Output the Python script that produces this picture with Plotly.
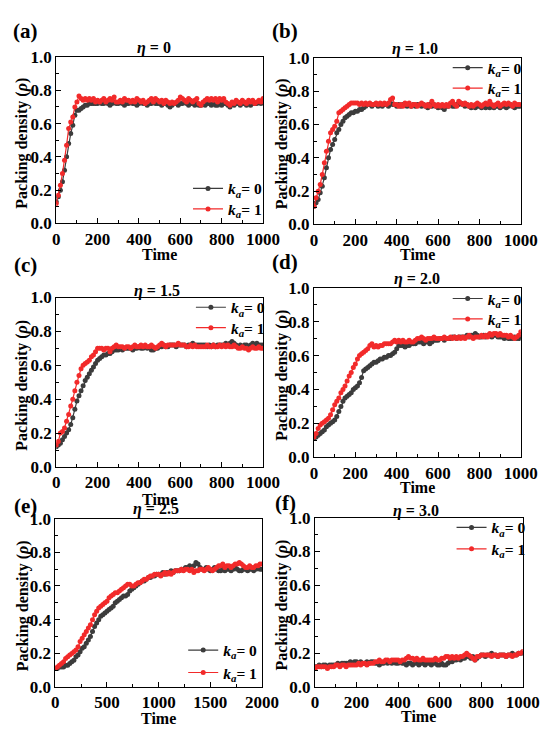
import plotly.graph_objects as go

W, H = 550, 730
FONT = "Liberation Serif"
GRAY = "#3c3c3c"
RED = "#f22a2a"

# ---------------- data ----------------
time_1000 = list(range(0, 1001, 10))
time_2000 = list(range(0, 2001, 20))

gray_a = [0.13, 0.16, 0.20, 0.25, 0.32, 0.40, 0.48, 0.54, 0.59, 0.65,
          0.68, 0.68, 0.69, 0.70, 0.71, 0.71, 0.72, 0.72, 0.72, 0.72,
          0.72, 0.73, 0.72, 0.72, 0.73, 0.72, 0.71, 0.72, 0.73, 0.72,
          0.72, 0.73, 0.72, 0.71, 0.72, 0.72, 0.73, 0.72, 0.72, 0.71,
          0.72, 0.73, 0.72, 0.72, 0.71, 0.72, 0.72, 0.73, 0.72, 0.72,
          0.72, 0.71, 0.72, 0.72, 0.71, 0.70, 0.71, 0.72, 0.72, 0.71,
          0.72, 0.72, 0.73, 0.72, 0.71, 0.72, 0.72, 0.71, 0.72, 0.71,
          0.71, 0.72, 0.71, 0.72, 0.72, 0.71, 0.72, 0.71, 0.71, 0.72,
          0.71, 0.72, 0.72, 0.71, 0.70, 0.72, 0.71, 0.72, 0.72, 0.71,
          0.72, 0.72, 0.71, 0.72, 0.71, 0.72, 0.72, 0.72, 0.73, 0.72,
          0.73]
red_a = [0.12, 0.17, 0.23, 0.30, 0.38, 0.47, 0.57, 0.61, 0.64, 0.70,
         0.73, 0.765, 0.75, 0.74, 0.75, 0.74, 0.75, 0.74, 0.75, 0.73,
         0.74, 0.73, 0.74, 0.75, 0.73, 0.74, 0.75, 0.74, 0.76, 0.73,
         0.73, 0.74, 0.73, 0.75, 0.74, 0.74, 0.73, 0.74, 0.73, 0.75,
         0.74, 0.73, 0.74, 0.72, 0.73, 0.74, 0.75, 0.73, 0.75, 0.74,
         0.73, 0.74, 0.72, 0.74, 0.73, 0.72, 0.73, 0.72, 0.73, 0.74,
         0.76, 0.75, 0.74, 0.73, 0.75, 0.74, 0.73, 0.74, 0.75, 0.72,
         0.71, 0.73, 0.74, 0.75, 0.74, 0.75, 0.74, 0.75, 0.73, 0.75,
         0.74, 0.75, 0.73, 0.72, 0.71, 0.73, 0.72, 0.74, 0.73, 0.72,
         0.74, 0.73, 0.72, 0.74, 0.73, 0.74, 0.72, 0.73, 0.74, 0.73,
         0.75]

gray_b = [0.11, 0.13, 0.15, 0.19, 0.23, 0.28, 0.34, 0.40, 0.45, 0.48,
          0.51, 0.55, 0.57, 0.60, 0.62, 0.64, 0.65, 0.66, 0.67, 0.67,
          0.68, 0.68, 0.69, 0.69, 0.70, 0.71, 0.72, 0.72, 0.71, 0.72,
          0.72, 0.71, 0.72, 0.71, 0.72, 0.72, 0.71, 0.73, 0.72, 0.72,
          0.71, 0.72, 0.71, 0.72, 0.72, 0.71, 0.72, 0.71, 0.72, 0.71,
          0.72, 0.72, 0.71, 0.72, 0.71, 0.70, 0.72, 0.71, 0.72, 0.71,
          0.70, 0.71, 0.70, 0.69, 0.71, 0.71, 0.72, 0.71, 0.71, 0.72,
          0.72, 0.73, 0.72, 0.71, 0.72, 0.71, 0.70, 0.71, 0.70, 0.71,
          0.71, 0.70, 0.71, 0.70, 0.71, 0.70, 0.71, 0.70, 0.71, 0.71,
          0.70, 0.71, 0.71, 0.70, 0.71, 0.72, 0.71, 0.70, 0.71, 0.71,
          0.71]
red_b = [0.11, 0.16, 0.20, 0.24, 0.30, 0.37, 0.44, 0.50, 0.55, 0.57,
         0.59, 0.62, 0.67, 0.68, 0.69, 0.70, 0.71, 0.72, 0.73, 0.73,
         0.73, 0.73, 0.72, 0.73, 0.72, 0.73, 0.72, 0.73, 0.72, 0.72,
         0.73, 0.72, 0.73, 0.72, 0.73, 0.72, 0.73, 0.75, 0.76, 0.72,
         0.72, 0.71, 0.72, 0.71, 0.73, 0.72, 0.73, 0.71, 0.72, 0.72,
         0.71, 0.72, 0.73, 0.72, 0.71, 0.72, 0.71, 0.74, 0.72, 0.71,
         0.72, 0.71, 0.72, 0.71, 0.72, 0.71, 0.73, 0.74, 0.72, 0.71,
         0.74, 0.73, 0.72, 0.73, 0.72, 0.71, 0.72, 0.71, 0.72, 0.73,
         0.72, 0.71, 0.72, 0.73, 0.72, 0.74, 0.72, 0.71, 0.72, 0.73,
         0.71, 0.72, 0.73, 0.72, 0.73, 0.72, 0.71, 0.73, 0.72, 0.72,
         0.72]

gray_c = [0.12, 0.13, 0.14, 0.16, 0.18, 0.20, 0.22, 0.25, 0.29, 0.34,
          0.39, 0.42, 0.45, 0.48, 0.51, 0.53, 0.55, 0.57, 0.59, 0.61,
          0.63, 0.64, 0.65, 0.66, 0.66, 0.67, 0.67, 0.68, 0.69, 0.69,
          0.69, 0.70, 0.69, 0.70, 0.70, 0.70, 0.70, 0.69, 0.70, 0.70,
          0.71, 0.70, 0.70, 0.71, 0.70, 0.71, 0.69, 0.69, 0.70, 0.70,
          0.71, 0.71, 0.72, 0.71, 0.71, 0.72, 0.72, 0.72, 0.71, 0.72,
          0.72, 0.72, 0.72, 0.71, 0.72, 0.72, 0.73, 0.72, 0.72, 0.72,
          0.72, 0.72, 0.72, 0.71, 0.72, 0.71, 0.72, 0.71, 0.72, 0.72,
          0.72, 0.72, 0.73, 0.72, 0.73, 0.74, 0.73, 0.72, 0.71, 0.72,
          0.71, 0.72, 0.72, 0.71, 0.72, 0.73, 0.72, 0.73, 0.72, 0.72,
          0.72]
red_c = [0.13, 0.15, 0.20, 0.21, 0.23, 0.27, 0.31, 0.36, 0.40, 0.45,
         0.50, 0.54, 0.58, 0.60, 0.61, 0.62, 0.63, 0.65, 0.66, 0.68,
         0.70, 0.70, 0.70, 0.69, 0.70, 0.70, 0.68, 0.70, 0.71, 0.72,
         0.71, 0.71, 0.71, 0.70, 0.71, 0.71, 0.70, 0.71, 0.72, 0.71,
         0.71, 0.72, 0.71, 0.72, 0.71, 0.71, 0.72, 0.71, 0.70, 0.71,
         0.72, 0.73, 0.72, 0.71, 0.72, 0.72, 0.72, 0.72, 0.72, 0.73,
         0.72, 0.72, 0.72, 0.71, 0.71, 0.72, 0.71, 0.72, 0.71, 0.71,
         0.71, 0.71, 0.71, 0.72, 0.71, 0.71, 0.72, 0.71, 0.71, 0.72,
         0.71, 0.72, 0.71, 0.72, 0.71, 0.71, 0.72, 0.71, 0.70, 0.70,
         0.71, 0.70, 0.70, 0.69, 0.70, 0.71, 0.70, 0.70, 0.71, 0.70,
         0.70]

gray_d = [0.11, 0.12, 0.13, 0.14, 0.15, 0.16, 0.18, 0.19, 0.20, 0.21,
          0.22, 0.24, 0.27, 0.30, 0.33, 0.35, 0.36, 0.37, 0.38, 0.40,
          0.41, 0.42, 0.44, 0.47, 0.51, 0.52, 0.53, 0.54, 0.55, 0.56,
          0.56, 0.57, 0.58, 0.58, 0.59, 0.59, 0.60, 0.60, 0.61, 0.62,
          0.64, 0.66, 0.66, 0.66, 0.65, 0.66, 0.66, 0.67, 0.67, 0.67,
          0.68, 0.68, 0.68, 0.67, 0.68, 0.68, 0.67, 0.68, 0.69, 0.69,
          0.69, 0.70, 0.70, 0.69, 0.70, 0.70, 0.70, 0.71, 0.71, 0.70,
          0.71, 0.71, 0.71, 0.71, 0.72, 0.71, 0.72, 0.72, 0.73, 0.72,
          0.71, 0.71, 0.72, 0.71, 0.72, 0.72, 0.71, 0.72, 0.72, 0.71,
          0.71, 0.71, 0.70, 0.71, 0.70, 0.70, 0.70, 0.71, 0.70, 0.70,
          0.71]
red_d = [0.12, 0.14, 0.17, 0.19, 0.20, 0.21, 0.22, 0.23, 0.25, 0.28,
         0.31, 0.33, 0.35, 0.38, 0.40, 0.42, 0.45, 0.48, 0.50, 0.53,
         0.55, 0.58, 0.60, 0.61, 0.62, 0.63, 0.64, 0.66, 0.67, 0.65,
         0.66, 0.65, 0.66, 0.66, 0.67, 0.67, 0.67, 0.67, 0.68, 0.69,
         0.68, 0.69, 0.68, 0.69, 0.68, 0.68, 0.69, 0.68, 0.68, 0.69,
         0.70, 0.70, 0.71, 0.70, 0.69, 0.70, 0.70, 0.70, 0.71, 0.70,
         0.70, 0.70, 0.70, 0.71, 0.70, 0.70, 0.71, 0.70, 0.71, 0.70,
         0.71, 0.70, 0.71, 0.70, 0.71, 0.72, 0.71, 0.70, 0.71, 0.71,
         0.71, 0.72, 0.71, 0.72, 0.71, 0.73, 0.72, 0.73, 0.73, 0.72,
         0.73, 0.72, 0.72, 0.72, 0.71, 0.72, 0.71, 0.70, 0.71, 0.72,
         0.74]

gray_e = [0.11, 0.11, 0.12, 0.12, 0.12, 0.13, 0.13, 0.14, 0.15, 0.16,
          0.18, 0.19, 0.21, 0.23, 0.24, 0.26, 0.28, 0.30, 0.33, 0.36,
          0.38, 0.40, 0.42, 0.43, 0.44, 0.45, 0.46, 0.47, 0.48, 0.50,
          0.51, 0.52, 0.53, 0.54, 0.54, 0.55, 0.57, 0.58, 0.59, 0.60,
          0.61, 0.62, 0.63, 0.63, 0.64, 0.65, 0.65, 0.66, 0.66, 0.67,
          0.67, 0.67, 0.68, 0.67, 0.68, 0.68, 0.69, 0.68, 0.69, 0.69,
          0.69, 0.70, 0.70, 0.71, 0.71, 0.72, 0.71, 0.72, 0.74, 0.73,
          0.71, 0.70, 0.70, 0.71, 0.70, 0.69, 0.70, 0.71, 0.70, 0.69,
          0.69, 0.70, 0.69, 0.70, 0.70, 0.69, 0.70, 0.71, 0.70, 0.69,
          0.69, 0.70, 0.70, 0.69, 0.70, 0.70, 0.69, 0.70, 0.71, 0.70,
          0.70]
red_e = [0.11, 0.12, 0.13, 0.14, 0.15, 0.17, 0.18, 0.19, 0.20, 0.21,
         0.22, 0.24, 0.27, 0.29, 0.31, 0.33, 0.35, 0.37, 0.40, 0.43,
         0.45, 0.47, 0.48, 0.49, 0.50, 0.51, 0.53, 0.54, 0.55, 0.56,
         0.56, 0.57, 0.58, 0.59, 0.60, 0.61, 0.61, 0.60, 0.60, 0.61,
         0.62, 0.62, 0.63, 0.64, 0.64, 0.65, 0.66, 0.66, 0.67, 0.67,
         0.67, 0.66, 0.67, 0.68, 0.67, 0.68, 0.67, 0.68, 0.69, 0.69,
         0.69, 0.70, 0.69, 0.70, 0.70, 0.69, 0.70, 0.68, 0.69, 0.69,
         0.70, 0.70, 0.69, 0.70, 0.71, 0.70, 0.69, 0.70, 0.71, 0.72,
         0.72, 0.73, 0.71, 0.72, 0.72, 0.71, 0.72, 0.73, 0.73, 0.74,
         0.73, 0.72, 0.71, 0.71, 0.72, 0.71, 0.71, 0.72, 0.72, 0.73,
         0.73]

gray_f = [0.12, 0.12, 0.13, 0.12, 0.13, 0.13, 0.12, 0.13, 0.13, 0.13,
          0.13, 0.14, 0.13, 0.14, 0.14, 0.14, 0.14, 0.15, 0.14, 0.15,
          0.15, 0.14, 0.15, 0.14, 0.14, 0.15, 0.14, 0.15, 0.15, 0.14,
          0.14, 0.13, 0.14, 0.14, 0.15, 0.14, 0.15, 0.14, 0.15, 0.14,
          0.14, 0.15, 0.14, 0.14, 0.13, 0.14, 0.14, 0.13, 0.14, 0.14,
          0.13, 0.14, 0.14, 0.13, 0.14, 0.14, 0.13, 0.14, 0.14, 0.13,
          0.13, 0.14, 0.13, 0.13, 0.14, 0.15, 0.15, 0.16, 0.16, 0.17,
          0.16, 0.17, 0.17, 0.18, 0.18, 0.17, 0.18, 0.16, 0.17, 0.18,
          0.19, 0.19, 0.18, 0.19, 0.19, 0.20, 0.19, 0.19, 0.18, 0.19,
          0.19, 0.19, 0.18, 0.19, 0.19, 0.20, 0.19, 0.19, 0.20, 0.20,
          0.20]
red_f = [0.11, 0.12, 0.12, 0.12, 0.12, 0.12, 0.11, 0.12, 0.12, 0.12,
         0.13, 0.13, 0.12, 0.13, 0.13, 0.12, 0.13, 0.13, 0.13, 0.13,
         0.13, 0.14, 0.13, 0.14, 0.14, 0.13, 0.14, 0.14, 0.14, 0.15,
         0.15, 0.16, 0.15, 0.15, 0.16, 0.16, 0.15, 0.16, 0.16, 0.16,
         0.16, 0.15, 0.16, 0.16, 0.17, 0.18, 0.17, 0.17, 0.16, 0.17,
         0.16, 0.16, 0.17, 0.16, 0.16, 0.16, 0.16, 0.16, 0.17, 0.16,
         0.16, 0.17, 0.17, 0.18, 0.18, 0.17, 0.18, 0.17, 0.18, 0.17,
         0.18, 0.18, 0.19, 0.20, 0.19, 0.18, 0.17, 0.16, 0.18, 0.18,
         0.19, 0.19, 0.19, 0.19, 0.19, 0.18, 0.19, 0.19, 0.18, 0.19,
         0.19, 0.19, 0.18, 0.19, 0.19, 0.18, 0.19, 0.19, 0.20, 0.20,
         0.21]

panel_labels = ["(a)", "(b)", "(c)", "(d)", "(e)", "(f)"]
eta_labels = ["0", "1.0", "1.5", "2.0", "2.5", "3.0"]
series_names = ["<i>k</i><sub><i>a</i></sub>= 0", "<i>k</i><sub><i>a</i></sub>= 1"]

panels = [
    dict(t=time_1000, g=gray_a, r=red_a, xmax=1000, dt=200),
    dict(t=time_1000, g=gray_b, r=red_b, xmax=1000, dt=200),
    dict(t=time_1000, g=gray_c, r=red_c, xmax=1000, dt=200),
    dict(t=time_1000, g=gray_d, r=red_d, xmax=1000, dt=200),
    dict(t=time_2000, g=gray_e, r=red_e, xmax=2000, dt=500),
    dict(t=time_1000, g=gray_f, r=red_f, xmax=1000, dt=200),
]

# ---------------- layout (pixel geometry) ----------------
boxes = [(46, 261, 41, 212), (314, 529, 42, 213),
         (46, 261, 288, 462), (314, 529, 278, 452),
         (45, 260, 515, 688), (315, 531, 514, 688)]
title_pos = [(148, 32), (419, 33), (151, 281), (421, 269), (150, 505), (420, 507)]
label_pos = [(14, 14), (284, 14), (14, 255), (284, 252), (14, 502), (284, 499)]
xtitle_y = [244, 244, 495, 483, 720, 718]
ytitle_x = [11, 281, 11, 281, 11, 281]
# legend: line start x, entry center y (first, second)
legend_pos = [(188, 176, 197), (458, 52, 73), (191, 298, 319),
              (458, 289, 310), (183, 650, 673), (462, 524, 546)]


def px(x):
    return x / W


def py(y):
    return 1 - y / H


fig = go.Figure()
layout = dict(width=W, height=H, margin=dict(l=0, r=0, t=0, b=0),
              paper_bgcolor="white", plot_bgcolor="white", showlegend=True,
              font=dict(family=FONT, color="black"), annotations=[])

tickf = dict(family=FONT, size=17, color="black", weight="bold")

for i, p in enumerate(panels):
    n = "" if i == 0 else str(i + 1)
    xa, ya = "x" + n, "y" + n
    l, r, t, b = boxes[i]
    lx, ly1, ly2 = legend_pos[i]
    entries = [(series_names[0], p["g"], GRAY, ly1), (series_names[1], p["r"], RED, ly2)]
    for j, (name, vals, col, ly) in enumerate(entries):
        k = 2 * i + j
        lg = "legend" if k == 0 else "legend" + str(k + 1)
        fig.add_trace(go.Scatter(
            x=p["t"], y=vals, mode="lines+markers", name=name,
            line=dict(color=col, width=1.2),
            marker=dict(color=col, size=5, symbol="circle"),
            xaxis=xa, yaxis=ya, legend=lg, showlegend=True))
        layout[lg] = dict(x=px(lx - 5), y=py(ly - 17), xanchor="left", yanchor="top",
                          bgcolor="rgba(0,0,0,0)", borderwidth=0,
                          font=dict(family=FONT, size=15.5, color="black", weight="bold"),
                          itemwidth=30)
    axcommon = dict(showline=True, linecolor="black", linewidth=1, mirror=True,
                    ticks="inside", ticklen=5, tickwidth=1, tickcolor="black",
                    showgrid=False, zeroline=False, tickfont=tickf)
    layout["xaxis" + n] = dict(domain=[px(l), px(r)], range=[0, p["xmax"]],
                               anchor=ya, dtick=p["dt"], tick0=0,
                               minor=dict(ticks="inside", ticklen=3, dtick=p["dt"] / 2,
                                          tickcolor="black"),
                               **axcommon)
    layout["yaxis" + n] = dict(domain=[py(b), py(t)], range=[0, 1.0],
                               anchor=xa, dtick=0.2, tick0=0, tickformat=".1f",
                               minor=dict(ticks="inside", ticklen=3, dtick=0.1,
                                          tickcolor="black"),
                               **axcommon)
    anns = layout["annotations"]
    tx, ty = title_pos[i]
    anns.append(dict(text="<b><i>η</i> = " + eta_labels[i] + "</b>", x=px(tx), y=py(ty),
                     xref="paper", yref="paper", showarrow=False,
                     xanchor="center", yanchor="middle",
                     font=dict(family=FONT, size=16, color="black")))
    lxp, lyp = label_pos[i]
    anns.append(dict(text="<b>" + panel_labels[i] + "</b>", x=px(lxp), y=py(lyp),
                     xref="paper", yref="paper", showarrow=False,
                     xanchor="center", yanchor="middle",
                     font=dict(family=FONT, size=21, color="black")))
    anns.append(dict(text="<b>Time</b>", x=px((l + r) / 2), y=py(xtitle_y[i]),
                     xref="paper", yref="paper", showarrow=False,
                     xanchor="center", yanchor="middle",
                     font=dict(family=FONT, size=16, color="black")))
    anns.append(dict(text="<b>Packing density (<i>ρ</i>)</b>", x=px(ytitle_x[i]),
                     y=py((t + b) / 2 + 3), textangle=-90,
                     xref="paper", yref="paper", showarrow=False,
                     xanchor="center", yanchor="middle",
                     font=dict(family=FONT, size=16, color="black")))

fig.update_layout(**layout)
fig.write_html("out.html")
